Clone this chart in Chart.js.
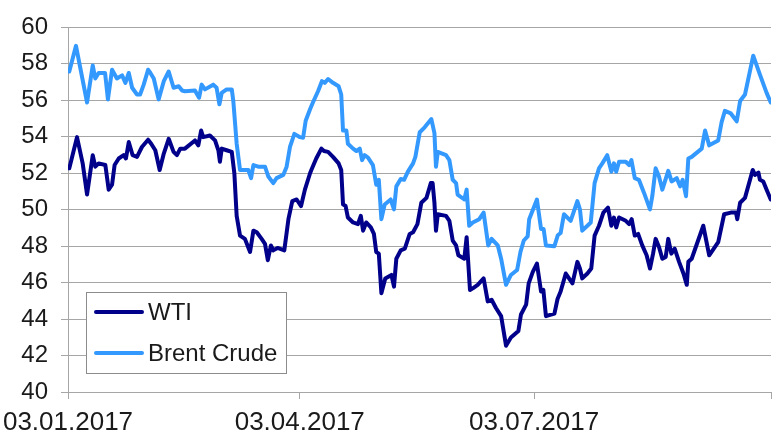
<!DOCTYPE html>
<html>
<head>
<meta charset="utf-8">
<script src="https://cdn.jsdelivr.net/npm/chart.js@4/dist/chart.umd.min.js"></script>
<style>
html,body{margin:0;padding:0;background:#fff;}
#wrap{width:772px;height:434px;position:relative;}
</style>
</head>
<body>
<div id="wrap"><canvas id="c" width="772" height="434"></canvas></div>
<script>
// Days since 03.01.2017
const seriesNames = ['WTI', 'Brent Crude'];
const tickDays = [0, 90, 181, 273];
const tickLabels = ['03.01.2017', '03.04.2017', '03.07.2017', ''];

const wtiDays = [0.5,3.5,5.7,7.4,9.6,10.6,11.9,14.5,15.8,17.1,18.1,19.7,21.6,22.5,23.6,25.1,26.8,28.7,31.1,32.3,33.9,35.6,37.2,39.1,41.0,42.3,43.6,45.4,49.3,50.6,51.7,52.5,55.1,57.1,58.4,59.0,59.7,61.6,63.6,64.6,65.5,66.8,68.7,70.7,72.0,73.3,75.2,76.5,77.6,78.8,79.7,81.4,84.0,85.6,87.1,88.8,90.5,92.0,94.0,94.5,96.4,98.4,99.4,101.0,102.9,105.1,106.1,106.8,107.8,108.7,110.7,112.6,113.7,114.6,115.8,117.6,118.8,119.7,120.7,121.7,123.2,125.6,126.6,127.5,129.2,130.8,132.7,134.0,135.7,137.2,139.2,140.9,141.6,142.3,142.9,143.6,146.8,148.1,149.4,150.7,151.6,153.9,154.8,156.1,157.2,159.1,161.4,163.0,164.5,166.2,168.2,170.1,172.0,174.9,175.9,177.9,178.9,180.5,182.1,183.7,184.6,185.6,188.9,190.1,191.3,193.3,195.9,197.8,198.8,199.7,201.7,203.2,204.5,206.2,207.9,209.7,211.0,212.0,212.9,214.0,216.6,217.9,218.9,220.1,221.4,223.0,224.7,226.0,227.2,228.2,229.5,230.8,232.1,233.1,234.3,235.6,237.3,239.0,240.3,240.9,242.2,246.7,249.0,252.5,254.8,257.4,259.4,259.9,261.0,262.9,265.9,266.8,268.1,268.7,270.0,271.3,272.9];
const wtiValues = [52.27,53.98,52.54,50.83,52.99,52.36,52.54,52.45,51.1,51.37,52.45,52.81,52.99,52.81,53.71,52.99,52.9,53.44,53.84,53.62,53.26,52.18,53.08,53.89,53.17,52.99,53.35,53.35,53.8,53.53,54.34,53.98,54.07,53.8,53.26,52.63,53.35,53.26,53.17,52.0,49.66,48.58,48.4,47.68,48.85,48.76,48.4,48.13,47.23,48.04,47.77,47.9,47.77,49.48,50.47,50.56,50.2,51.1,52.0,52.18,52.81,53.35,53.22,53.17,52.9,52.54,52.18,50.29,50.2,49.57,49.3,49.21,49.66,48.85,49.3,49.03,48.67,47.68,47.59,45.42,46.23,46.42,45.78,47.31,47.77,47.86,48.67,48.76,49.21,50.38,50.65,51.46,51.46,50.38,48.85,49.75,49.66,49.39,48.31,48.04,47.5,47.31,48.49,45.6,45.69,45.88,46.23,44.97,45.06,44.61,44.16,42.54,42.99,43.35,44.25,44.79,45.96,46.59,47.04,45.51,45.6,44.16,44.3,45.1,45.51,46.5,45.96,47.14,46.77,46.23,46.5,46.77,48.58,49.12,49.84,50.11,49.12,49.57,49.03,49.57,49.39,49.21,49.48,48.58,48.67,48.04,47.5,46.77,47.59,48.4,47.95,47.31,47.41,48.4,47.59,47.86,47.14,46.5,45.88,47.14,47.31,49.12,47.5,48.22,49.75,49.84,49.84,49.48,50.38,50.65,52.18,51.91,52.04,51.64,51.55,51.1,50.56];

const brentDays = [0.5,3.1,7.4,9.6,10.6,11.9,14.4,15.5,17.1,19.0,21.0,22.3,23.6,24.9,26.8,28.0,29.4,31.1,32.0,33.3,35.2,37.2,39.1,41.0,43.0,44.3,45.4,49.3,50.9,51.9,53.2,56.4,57.7,58.8,59.7,61.6,63.6,64.2,65.5,66.8,70.0,71.1,72.0,73.9,76.5,77.8,79.7,81.0,83.6,84.9,86.2,87.9,90.1,91.3,92.3,94.0,95.1,97.1,98.6,99.7,101.0,102.9,105.1,106.1,106.8,108.1,108.7,110.7,112.0,113.3,114.2,115.2,116.5,118.4,119.7,120.7,121.7,123.0,125.3,126.6,127.5,129.2,130.5,132.0,134.0,134.9,136.6,138.5,141.1,142.3,142.9,143.6,146.8,148.1,149.4,150.7,151.3,153.9,154.8,155.8,157.2,159.7,161.4,163.2,164.5,166.9,168.2,170.1,172.0,174.4,175.7,177.0,178.5,179.1,182.1,183.7,184.7,185.6,188.9,190.2,191.3,192.6,195.2,197.8,198.8,199.7,201.7,203.0,204.5,206.2,207.5,209.4,211.0,212.0,212.9,214.0,216.6,217.9,218.8,220.1,221.7,223.7,226.0,226.9,228.2,229.5,230.8,233.1,234.4,236.4,237.7,238.7,240.0,240.9,242.2,246.1,247.4,249.0,252.5,253.8,255.1,257.4,259.7,261.0,262.9,266.1,268.7,271.3,272.9];
const brentValues = [57.58,58.99,55.88,57.91,57.2,57.5,57.5,56.05,57.68,57.2,57.37,56.96,57.5,56.69,56.32,56.32,56.86,57.68,57.5,57.2,56.05,57.05,57.58,56.69,56.77,56.54,56.5,56.54,56.14,56.86,56.6,56.86,56.69,55.78,56.41,56.6,56.6,55.96,53.62,52.18,52.18,51.73,52.45,52.36,52.36,51.82,51.46,51.73,51.91,52.36,53.44,54.16,53.98,53.95,54.88,55.51,55.88,56.5,57.05,56.96,57.17,56.96,56.77,56.32,54.34,54.34,53.62,53.35,53.22,53.35,52.72,52.99,52.86,52.45,51.37,51.64,49.48,50.29,50.56,50.02,51.28,51.68,51.64,52.09,52.54,52.9,54.25,54.52,54.97,54.2,52.36,53.17,52.99,52.72,51.64,51.46,50.83,50.56,51.1,49.12,49.3,49.48,49.84,48.04,48.4,48.04,47.31,45.88,46.42,46.69,47.68,48.31,48.54,49.48,50.56,48.94,48.94,48.04,48.0,48.6,48.72,49.75,49.39,50.47,50.02,48.85,49.12,49.3,51.46,52.27,52.54,52.99,52.09,52.54,52.09,52.63,52.63,52.45,52.72,51.73,51.64,50.92,50.02,50.74,52.27,51.82,51.1,52.13,51.55,51.73,51.28,51.64,50.74,52.81,52.9,53.35,54.34,53.53,53.8,54.79,55.42,55.28,54.85,55.96,56.32,58.45,57.41,56.41,55.88];

const zip = (xs, ys) => xs.map((x, i) => ({x: x, y: ys[i]}));

const boxLegend = {
  id: 'boxLegend',
  afterDraw(chart) {
    const ctx = chart.ctx;
    const bx = 86.5, by = 292.5, bw = 200, bh = 81;
    ctx.save();
    ctx.fillStyle = '#ffffff';
    ctx.fillRect(bx, by, bw, bh);
    ctx.strokeStyle = '#8c8c8c';
    ctx.lineWidth = 1;
    ctx.strokeRect(bx, by, bw, bh);
    const rows = [312, 353];
    chart.data.datasets.forEach((ds, i) => {
      const y = rows[i];
      ctx.strokeStyle = ds.borderColor;
      ctx.lineWidth = 4;
      ctx.lineCap = 'round';
      ctx.beginPath();
      ctx.moveTo(96, y);
      ctx.lineTo(142, y);
      ctx.stroke();
      ctx.fillStyle = '#1a1a1a';
      ctx.font = '24px "Liberation Sans", Arial, sans-serif';
      ctx.textBaseline = 'middle';
      ctx.textAlign = 'left';
      ctx.fillText(ds.label, 148, y + 1);
    });
    ctx.restore();
  }
};

new Chart(document.getElementById('c'), {
  type: 'line',
  data: {
    datasets: [
      {label: seriesNames[0], data: zip(wtiDays, wtiValues), borderColor: '#00008b', borderWidth: 4, pointRadius: 0, tension: 0, borderJoinStyle: 'round', borderCapStyle: 'round'},
      {label: seriesNames[1], data: zip(brentDays, brentValues), borderColor: '#3399ff', borderWidth: 4, pointRadius: 0, tension: 0, borderJoinStyle: 'round', borderCapStyle: 'round'}
    ]
  },
  options: {
    responsive: false,
    animation: false,
    events: [],
    layout: {padding: {top: 22, right: 1, left: 0, bottom: 0}},
    plugins: {legend: {display: false}, tooltip: {enabled: false}, title: {display: false}},
    scales: {
      x: {
        type: 'linear',
        min: 0, max: 273,
        afterBuildTicks: (s) => { s.ticks = tickDays.map(v => ({value: v})); },
        afterFit: (s) => { s.height = 42; s.paddingLeft = 0; s.paddingRight = 0; },
        ticks: {
          autoSkip: false, maxRotation: 0,
          padding: 8,
          color: '#1a1a1a',
          font: {family: '"Liberation Sans", Arial, sans-serif', size: 26},
          callback: (v, i) => tickLabels[i]
        },
        grid: {drawOnChartArea: false, drawTicks: true, tickLength: 7, color: '#a6a6a6', lineWidth: 1},
        border: {display: true, color: '#a6a6a6', width: 1}
      },
      y: {
        min: 40, max: 60,
        afterFit: (s) => { s.width = 68; },
        ticks: {
          stepSize: 2,
          padding: 13,
          color: '#1a1a1a',
          font: {family: '"Liberation Sans", Arial, sans-serif', size: 24}
        },
        grid: {drawOnChartArea: true, drawTicks: true, tickLength: 7, color: '#a6a6a6', lineWidth: 1},
        border: {display: true, color: '#a6a6a6', width: 1}
      }
    }
  },
  plugins: [boxLegend]
});
</script>
</body>
</html>
